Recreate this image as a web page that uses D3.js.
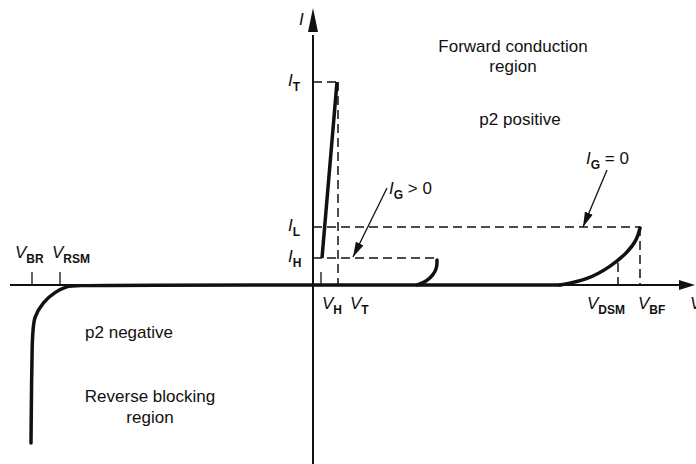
<!DOCTYPE html>
<html>
<head>
<meta charset="utf-8">
<script src="https://cdn.jsdelivr.net/npm/d3@7"></script>
<style>
body { margin: 0; background: #fff; }
text { font-family: "Liberation Sans", Arial, sans-serif; fill: #111; }
</style>
</head>
<body>
<svg id="chart" width="696" height="464"></svg>
<script>
// thyristor I-V characteristic, units are arbitrary

// voltage marks on the V axis
var vNames = ["BR", "RSM", "H", "T", "DSM", "BF"];
var vValues = [-281, -253, 8, 25, 305, 327];

// current levels on the I axis
var iNames = ["T", "L", "H"];
var iValues = [203, 58, 27];

// curves
var reverseCurve = [[-282, -158], [-281, -48], [-279, -32], [-270, -17], [-258, -7], [-246, -1], [-236, 0], [247, 0]];
var forwardCurve = [[247, 0], [274, 5], [297, 18], [314, 32], [324, 45], [327, 57]];
var gateCurve = [[104, 0], [114, 4], [120, 10], [124, 17], [124, 25]];
var onState = [[9, 27], [24, 203]];

var x = d3.scaleLinear().domain([-303, 383]).range([10, 696]);
var y = d3.scaleLinear().domain([0, 277]).range([285, 8]);

var svg = d3.select("#chart");

svg.append("defs").append("marker")
    .attr("id", "arr")
    .attr("viewBox", "0 0 10 10")
    .attr("refX", 10).attr("refY", 5)
    .attr("markerWidth", 15).attr("markerHeight", 15)
    .attr("markerUnits", "userSpaceOnUse")
    .attr("orient", "auto")
    .append("path").attr("d", "M0,2.2L10,5L0,7.8Z").attr("fill", "#111");

// axes
svg.append("line")
    .attr("x1", x(-303)).attr("x2", x(370))
    .attr("y1", y(0)).attr("y2", y(0))
    .attr("stroke", "#111").attr("stroke-width", 2);
svg.append("path")
    .attr("d", "M" + x(366) + "," + (y(0) - 5) + "L" + x(382) + "," + y(0) + "L" + x(366) + "," + (y(0) + 5) + "Z")
    .attr("fill", "#111");

svg.append("line")
    .attr("x1", x(0)).attr("x2", x(0))
    .attr("y1", y(-185)).attr("y2", y(250))
    .attr("stroke", "#111").attr("stroke-width", 2);
svg.append("path")
    .attr("d", "M" + (x(0) - 5) + "," + y(253) + "L" + x(0) + "," + y(277) + "L" + (x(0) + 5) + "," + y(253) + "Z")
    .attr("fill", "#111");

// dashed guides
var dash = "9,5";
function dashed(x1, y1, x2, y2) {
    svg.append("line")
        .attr("x1", x(x1)).attr("y1", y(y1))
        .attr("x2", x(x2)).attr("y2", y(y2))
        .attr("stroke", "#111").attr("stroke-width", 1.5)
        .attr("stroke-dasharray", dash);
}
dashed(0, iValues[0], vValues[3], iValues[0]);
dashed(vValues[3], iValues[0], vValues[3], 0);
dashed(0, iValues[1], vValues[5], iValues[1]);
dashed(vValues[5], iValues[1], vValues[5], 0);
dashed(0, iValues[2], 124, iValues[2]);
dashed(vValues[4], 22, vValues[4], 0);

// small solid ticks
[vValues[0], vValues[1], vValues[2]].forEach(function (v) {
    svg.append("line")
        .attr("x1", x(v)).attr("x2", x(v))
        .attr("y1", y(13)).attr("y2", y(0))
        .attr("stroke", "#111").attr("stroke-width", 1.3);
});

// thick characteristic
var line = d3.line()
    .x(function (d) { return x(d[0]); })
    .y(function (d) { return y(d[1]); })
    .curve(d3.curveBasis);

[reverseCurve, forwardCurve, gateCurve].forEach(function (c) {
    svg.append("path").datum(c)
        .attr("d", line)
        .attr("fill", "none").attr("stroke", "#111")
        .attr("stroke-width", 3.5).attr("stroke-linecap", "round");
});
svg.append("path").datum(onState)
    .attr("d", d3.line().x(function (d) { return x(d[0]); }).y(function (d) { return y(d[1]); }))
    .attr("fill", "none").attr("stroke", "#111").attr("stroke-width", 3.5);

// pointer arrows
svg.append("line")
    .attr("x1", x(74)).attr("y1", y(97))
    .attr("x2", x(40)).attr("y2", y(28))
    .attr("stroke", "#111").attr("stroke-width", 1.3)
    .attr("marker-end", "url(#arr)");
svg.append("line")
    .attr("x1", x(294)).attr("y1", y(115))
    .attr("x2", x(270)).attr("y2", y(58))
    .attr("stroke", "#111").attr("stroke-width", 1.3)
    .attr("marker-end", "url(#arr)");

// labels with subscripts
function label(px, py, main, sub, rest) {
    var t = svg.append("text").attr("x", px).attr("y", py).attr("font-size", 17);
    t.append("tspan").attr("font-style", "italic").text(main);
    t.append("tspan").attr("font-size", 12).attr("dy", 5).attr("font-weight", "bold").text(sub);
    if (rest) t.append("tspan").attr("dy", -5).text(rest);
    return t;
}

var vLabelX = [15, 52, 322, 350, 587, 638];
vNames.forEach(function (n, i) {
    var py = i < 2 ? 258 : 309;
    label(vLabelX[i], py, "V", n);
});
iNames.forEach(function (n, i) {
    label(288, y(iValues[i]) + 4, "I", n);
});

svg.append("text").attr("x", 299).attr("y", 25)
    .attr("font-size", 17).attr("font-style", "italic").text("I");
svg.append("text").attr("x", 690).attr("y", 309)
    .attr("font-size", 17).attr("font-style", "italic").text("V");

label(389, 194, "I", "G", " > 0");
label(586, 164, "I", "G", " = 0");

// region notes
var notes = [
    ["Forward conduction", 513, 52],
    ["region", 513, 72],
    ["p2 positive", 520, 125],
    ["p2 negative", 129, 338],
    ["Reverse blocking", 150, 402],
    ["region", 150, 423]
];
svg.selectAll("text.note").data(notes).enter().append("text")
    .attr("class", "note")
    .attr("x", function (d) { return d[1]; })
    .attr("y", function (d) { return d[2]; })
    .attr("text-anchor", "middle")
    .attr("font-size", 17)
    .text(function (d) { return d[0]; });
</script>
</body>
</html>
